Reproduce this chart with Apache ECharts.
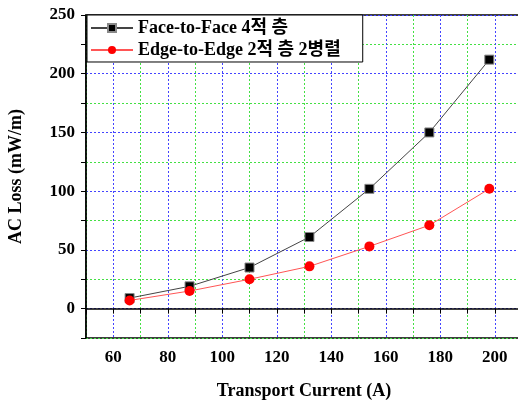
<!DOCTYPE html>
<html>
<head>
<meta charset="utf-8">
<script src="https://cdn.jsdelivr.net/npm/echarts@6/dist/echarts.min.js"></script>
<style>
  html, body { margin: 0; padding: 0; background: #fff; }
  #chart { width: 518px; height: 400px; }
</style>
</head>
<body>
<div id="chart"></div>
<script>
const currents = [66, 88, 110, 132, 154, 176, 198]
const faceToFace = [9, 19, 35, 61, 102, 150, 212]
const edgeToEdge = [7, 15, 25, 36, 53, 71, 102]
const seriesNames = ['Face-to-Face 4적 층', 'Edge-to-Edge 2적 층 2병렬']

const serif = '"Liberation Serif", "Times New Roman", "Noto Sans CJK KR", serif'
const gridColors = ['#44e044', '#4444ff']

const chart = echarts.init(document.getElementById('chart'))

const option = {
  animation: false,
  backgroundColor: '#fff',
  grid: {
    left: 86,
    top: 15,
    width: 436,
    height: 323,
    outerBoundsMode: 'none',
    containLabel: false,
    show: true,
    borderColor: '#000',
    borderWidth: 1.5,
    backgroundColor: 'transparent'
  },
  legend: {
    orient: 'vertical',
    left: 87,
    top: 15,
    data: seriesNames,
    itemWidth: 42,
    itemHeight: 10,
    itemGap: 4,
    padding: [4, 22, 3, 3],
    backgroundColor: '#fff',
    borderColor: '#000',
    borderWidth: 1,
    textStyle: {
      fontFamily: serif,
      fontWeight: 'bold',
      fontSize: 18,
      color: '#000'
    }
  },
  xAxis: {
    type: 'value',
    min: 50,
    max: 210,
    interval: 10,
    name: 'Transport Current (A)',
    nameLocation: 'middle',
    nameGap: 44,
    nameTextStyle: { fontFamily: serif, fontWeight: 'bold', fontSize: 18, color: '#000' },
    axisLine: { lineStyle: { color: '#000', width: 1.5 } },
    axisTick: { length: 5, lineStyle: { color: '#000' } },
    axisLabel: {
      margin: 11,
      fontFamily: serif,
      fontWeight: 'bold',
      fontSize: 17,
      color: '#000',
      formatter: v => (v % 20 === 0 && v >= 60 && v <= 200) ? String(v) : ''
    },
    splitLine: { show: true, lineStyle: { color: gridColors, type: [2, 2], width: 1 } }
  },
  yAxis: {
    type: 'value',
    min: -25,
    max: 250,
    interval: 25,
    name: 'AC Loss (mW/m)',
    nameLocation: 'middle',
    nameGap: 61,
    nameTextStyle: { fontFamily: serif, fontWeight: 'bold', fontSize: 18, color: '#000' },
    axisLine: { show: true, lineStyle: { color: '#000', width: 1.5 } },
    axisTick: { show: true, length: 5, lineStyle: { color: '#000' } },
    axisLabel: {
      margin: 11,
      fontFamily: serif,
      fontWeight: 'bold',
      fontSize: 17,
      color: '#000',
      formatter: v => (v % 50 === 0 && v >= 0) ? String(v) : ''
    },
    splitLine: { show: true, lineStyle: { color: gridColors, type: [2, 2], width: 1 } }
  },
  series: [
    {
      name: seriesNames[0],
      type: 'line',
      data: currents.map((x, i) => [x, faceToFace[i]]),
      symbol: 'rect',
      symbolSize: 9,
      itemStyle: { color: '#000', borderColor: '#888', borderWidth: 1 },
      lineStyle: { color: '#444', width: 1 },
      z: 3
    },
    {
      name: seriesNames[1],
      type: 'line',
      data: currents.map((x, i) => [x, edgeToEdge[i]]),
      symbol: 'circle',
      symbolSize: 10,
      itemStyle: { color: '#ff0000', borderColor: '#ff0000', borderWidth: 0 },
      lineStyle: { color: '#ff5555', width: 1 },
      z: 4
    }
  ]
}

chart.setOption(option)
</script>
</body>
</html>
